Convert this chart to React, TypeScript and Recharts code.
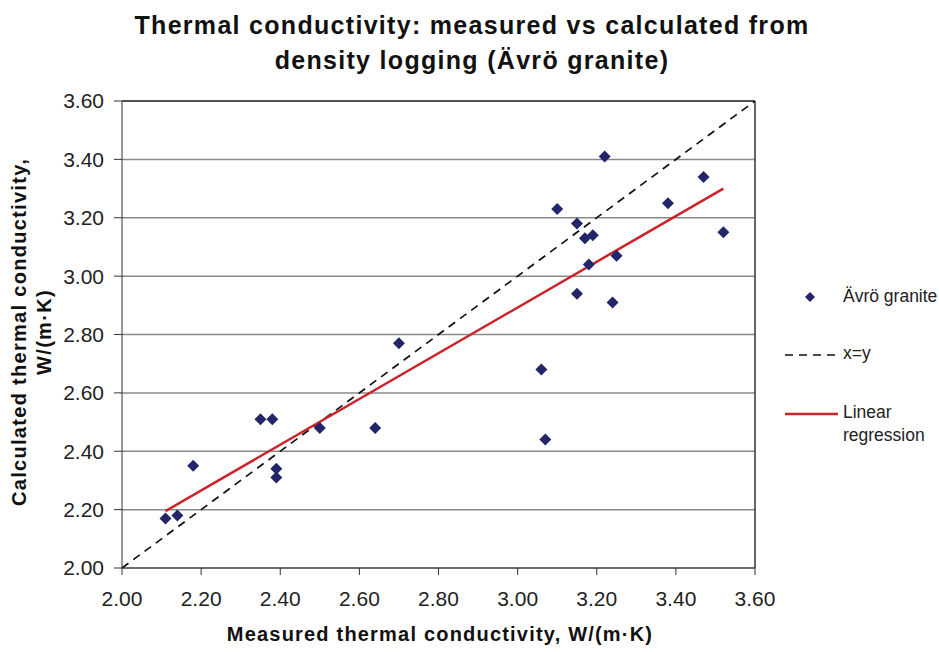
import React from 'react';
import {
  ScatterChart,
  Scatter,
  XAxis,
  YAxis,
  CartesianGrid,
  ReferenceLine
} from 'recharts';

const measured = [
  2.11, 2.14, 2.18, 2.35, 2.38, 2.39, 2.39, 2.50, 2.64, 2.70, 3.06, 3.07,
  3.22, 3.10, 3.15, 3.17, 3.19, 3.18, 3.25, 3.15, 3.24, 3.38, 3.47, 3.52
];
const calculated = [
  2.17, 2.18, 2.35, 2.51, 2.51, 2.34, 2.31, 2.48, 2.48, 2.77, 2.68, 2.44,
  3.41, 3.23, 3.18, 3.13, 3.14, 3.04, 3.07, 2.94, 2.91, 3.25, 3.34, 3.15
];

// line endpoints
const identityX = [2.0, 3.6];
const identityY = [2.0, 3.6];
const regressionX = [2.11, 3.52];
const regressionY = [2.195, 3.3];

const ticks = [2.0, 2.2, 2.4, 2.6, 2.8, 3.0, 3.2, 3.4, 3.6];

const points = measured.map((x, i) => ({ x, y: calculated[i] }));
const identity = identityX.map((x, i) => ({ x, y: identityY[i] }));
const regression = regressionX.map((x, i) => ({ x, y: regressionY[i] }));

const FONT = '"Liberation Sans", Arial, Helvetica, sans-serif';
const NAVY = '#23256a';
const RED = '#cc2229';

const noDot = () => <g />;

// square diamond, like the Excel marker
const Diamond = (props: any) => {
  const { cx, cy } = props;
  const r = 6;
  return (
    <polygon
      points={`${cx},${cy - r} ${cx + r},${cy} ${cx},${cy + r} ${cx - r},${cy}`}
      fill={NAVY}
    />
  );
};

export default function App() {
  const tickStyle = { fontSize: 21, fill: '#222', fontFamily: FONT };

  return (
    <div
      style={{
        position: 'absolute',
        left: 0,
        top: 0,
        width: 939,
        height: 652,
        background: '#fff',
        fontFamily: FONT,
        color: '#111'
      }}
    >
      {/* Title */}
      <div
        style={{
          position: 'absolute',
          left: 0,
          top: 8,
          width: 944,
          textAlign: 'center',
          fontWeight: 'bold',
          fontSize: 25,
          letterSpacing: 1.3,
          lineHeight: '35px'
        }}
      >
        Thermal conductivity: measured vs calculated from
        <br />
        density logging (Ävrö granite)
      </div>

      <ScatterChart
        width={939}
        height={652}
        margin={{ top: 101, right: 184, left: 52, bottom: 44 }}
      >
        <CartesianGrid vertical={false} stroke="#8a8a8a" strokeWidth={1.5} />
        <XAxis
          type="number"
          dataKey="x"
          domain={[2.0, 3.6]}
          ticks={ticks}
          tickFormatter={(v) => v.toFixed(2)}
          tick={tickStyle}
          tickSize={7}
          tickMargin={16}
          stroke="#333"
          height={40}
          allowDataOverflow
        />
        <YAxis
          type="number"
          dataKey="y"
          domain={[2.0, 3.6]}
          ticks={ticks}
          tickFormatter={(v) => v.toFixed(2)}
          tick={tickStyle}
          tickSize={8}
          tickMargin={10}
          stroke="#333"
          width={70}
          allowDataOverflow
        />
        <ReferenceLine y={3.6} stroke="#333" strokeWidth={1.5} />
        <ReferenceLine x={3.6} stroke="#333" strokeWidth={1.5} />
        <Scatter
          data={identity}
          line={{ stroke: '#111', strokeWidth: 1.7, strokeDasharray: '8 6' }}
          shape={noDot}
          isAnimationActive={false}
        />
        <Scatter
          data={regression}
          line={{ stroke: RED, strokeWidth: 2.5 }}
          shape={noDot}
          isAnimationActive={false}
        />
        <Scatter
          data={points}
          shape={<Diamond />}
          fill={NAVY}
          isAnimationActive={false}
        />
      </ScatterChart>

      {/* Y axis title */}
      <div
        style={{
          position: 'absolute',
          left: 32 - 200,
          top: 332 - 25,
          width: 400,
          height: 50,
          transform: 'rotate(-90deg)',
          textAlign: 'center',
          fontWeight: 'bold',
          fontSize: 20,
          letterSpacing: 1.3,
          lineHeight: '25px'
        }}
      >
        Calculated thermal conductivity,
        <br />
        W/(m·K)
      </div>

      {/* X axis title */}
      <div
        style={{
          position: 'absolute',
          left: 140,
          top: 623,
          width: 600,
          textAlign: 'center',
          fontWeight: 'bold',
          fontSize: 20,
          letterSpacing: 1.2
        }}
      >
        Measured thermal conductivity, W/(m·K)
      </div>

      {/* Legend */}
      <div style={{ position: 'absolute', left: 780, top: 284, fontSize: 17.5, color: '#222' }}>
        <div style={{ position: 'absolute', left: 0, top: 0, width: 160, height: 26 }}>
          <svg width={60} height={26} style={{ position: 'absolute', left: 0, top: 0 }}>
            <polygon points="30,8 35,13 30,18 25,13" fill={NAVY} />
          </svg>
          <span style={{ position: 'absolute', left: 63, top: 2 }}>Ävrö granite</span>
        </div>
        <div style={{ position: 'absolute', left: 0, top: 58, width: 160, height: 26 }}>
          <svg width={60} height={26} style={{ position: 'absolute', left: 0, top: 0 }}>
            <line x1={5} y1={13} x2={58} y2={13} stroke="#111" strokeWidth={1.7} strokeDasharray="8 6" />
          </svg>
          <span style={{ position: 'absolute', left: 63, top: 1 }}>x=y</span>
        </div>
        <div style={{ position: 'absolute', left: 0, top: 117, width: 160, height: 50 }}>
          <svg width={60} height={26} style={{ position: 'absolute', left: 0, top: 0 }}>
            <line x1={5} y1={13} x2={58} y2={13} stroke={RED} strokeWidth={2.5} />
          </svg>
          <span style={{ position: 'absolute', left: 63, top: 0, lineHeight: '23px' }}>
            Linear
            <br />
            regression
          </span>
        </div>
      </div>
    </div>
  );
}
